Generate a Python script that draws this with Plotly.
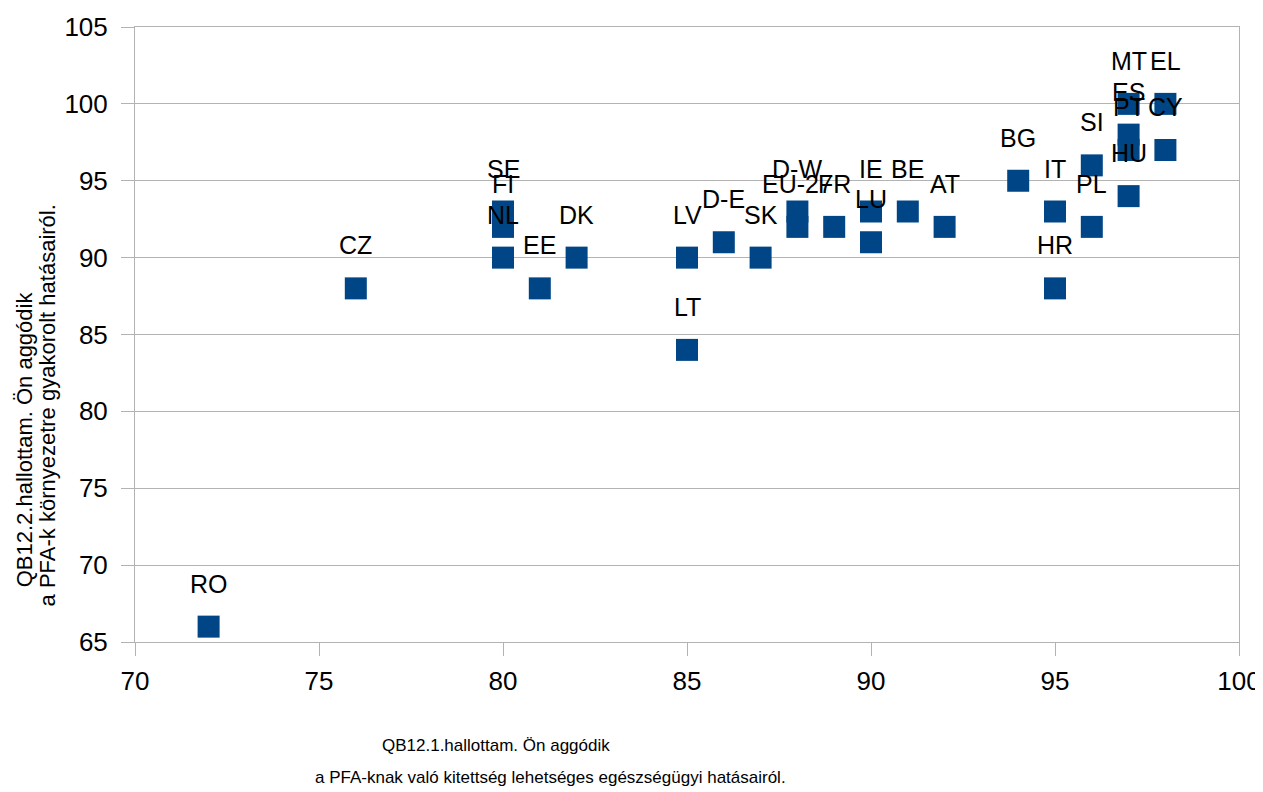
import plotly.graph_objects as go

countries = ["RO", "CZ", "SE", "FI", "NL", "EE", "DK", "LV", "LT", "D-E", "SK",
             "D-W", "EU-27", "FR", "IE", "LU", "BE", "AT", "BG", "IT", "HR",
             "SI", "PL", "MT", "ES", "PT", "HU", "EL", "CY"]
x_vals = [72, 76, 80, 80, 80, 81, 82, 85, 85, 86, 87,
          88, 88, 89, 90, 90, 91, 92, 94, 95, 95,
          96, 96, 97, 97, 97, 97, 98, 98]
y_vals = [66, 88, 93, 92, 90, 88, 90, 90, 84, 91, 90,
          93, 92, 92, 93, 91, 93, 92, 95, 93, 88,
          96, 92, 100, 98, 97, 94, 100, 97]

x_title_lines = ["QB12.1.hallottam. Ön aggódik",
                 "a PFA-knak való kitettség lehetséges egészségügyi hatásairól."]
y_title_lines = ["QB12.2.hallottam. Ön aggódik",
                 "a PFA-k környezetre gyakorolt hatásairól."]

FONT = "Liberation Sans, Arial, sans-serif"
GRID = "#b3b3b3"

fig = go.Figure()
fig.add_trace(go.Scatter(
    x=x_vals, y=y_vals, mode="markers",
    marker=dict(symbol="square", size=22, color="#004586",
                line=dict(width=0)),
    showlegend=False, hoverinfo="x+y",
))

annotations = []
for c, xv, yv in zip(countries, x_vals, y_vals):
    annotations.append(dict(
        x=xv, y=yv, xref="x", yref="y", text=c, showarrow=False,
        yshift=43, xanchor="center", yanchor="middle",
        font=dict(family=FONT, size=25, color="#000000"),
    ))

# axis titles (two lines each, positioned separately)
annotations += [
    dict(x=0.327, y=-0.1675, xref="paper", yref="paper", text=x_title_lines[0],
         showarrow=False, xanchor="center", yanchor="middle",
         font=dict(family=FONT, size=17, color="#000000")),
    dict(x=0.376, y=-0.221, xref="paper", yref="paper", text=x_title_lines[1],
         showarrow=False, xanchor="center", yanchor="middle",
         font=dict(family=FONT, size=17, color="#000000")),
    dict(x=-0.1000, y=0.329, xref="paper", yref="paper", text=y_title_lines[0],
         showarrow=False, xanchor="center", yanchor="middle", textangle=-90,
         font=dict(family=FONT, size=22, color="#000000")),
    dict(x=-0.0795, y=0.385, xref="paper", yref="paper", text=y_title_lines[1],
         showarrow=False, xanchor="center", yanchor="middle", textangle=-90,
         font=dict(family=FONT, size=22, color="#000000")),
]

fig.update_layout(
    width=1255, height=784,
    margin=dict(l=127, r=24, t=19, b=150, autoexpand=False),
    paper_bgcolor="white", plot_bgcolor="white",
    font=dict(family=FONT, color="#000000"),
    annotations=annotations,
    xaxis=dict(range=[70, 100], tick0=70, dtick=5, showgrid=False,
               zeroline=False, showline=True, linecolor=GRID, linewidth=1,
               mirror=True, ticks="outside", ticklen=13, tickcolor=GRID,
               ticklabelstandoff=3, automargin=False,
               tickfont=dict(family=FONT, size=26, color="#000000")),
    yaxis=dict(range=[65, 105], tick0=65, dtick=5, showgrid=True,
               gridcolor=GRID, gridwidth=1, zeroline=False, showline=True,
               linecolor=GRID, linewidth=1, mirror=True, ticks="outside",
               ticklen=13, tickcolor=GRID, automargin=False,
               ticklabelstandoff=8,
               tickfont=dict(family=FONT, size=26, color="#000000")),
)

fig.write_html("out.html")
